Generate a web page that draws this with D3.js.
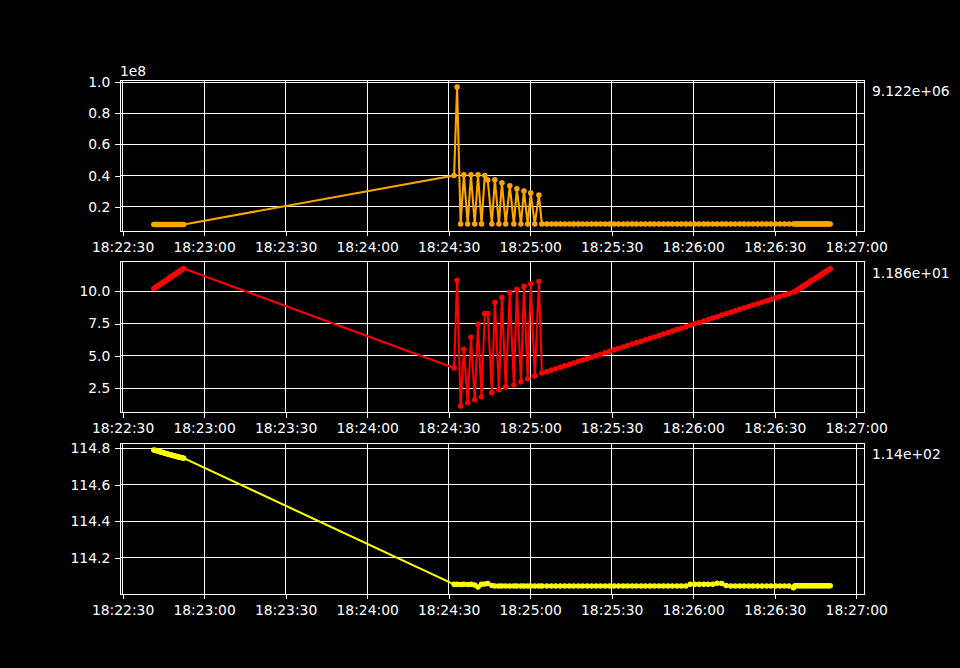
<!DOCTYPE html>
<html>
<head>
<meta charset="utf-8">
<script src="https://cdn.jsdelivr.net/npm/d3@7"></script>
<style>
  html, body { margin: 0; padding: 0; background: #000; }
  svg { display: block; }
  text { font-family: "DejaVu Sans", sans-serif; fill: #fff; }
</style>
</head>
<body>
<svg id="chart" width="960" height="668"></svg>
<script>
// ---- data (time in seconds after 18:22:00) ----
const times = [
  41.5, 42.0, 42.5, 43.0, 43.5, 44.0, 44.5, 45.0, 45.5, 46.0, 46.5, 47.0, 47.5, 48.0, 48.5, 49.0, 49.5, 50.0, 50.5, 51.0, 51.5, 52.0, 52.5,
  152.0, 153.1, 154.4, 155.6, 157.0, 158.2, 159.6, 160.8, 162.1, 163.3, 164.4, 165.9, 167.0, 168.5, 169.6, 171.0, 172.5, 174.0, 175.1, 176.6, 177.7, 179.1, 180.2, 181.7, 183.2, 184.3,
  186.1, 187.8, 189.4, 191.1, 192.7, 194.4, 196.0, 197.7, 199.3, 201.0, 202.6, 204.3, 205.9, 207.6, 209.2, 210.9, 212.5, 214.2, 215.8, 217.5, 219.1, 220.8, 222.4, 224.1, 225.7, 227.4, 229.0, 230.7,
  232.3, 234.0, 235.6, 237.3, 238.9, 240.6, 242.2, 243.9, 245.5, 247.2, 248.8, 250.5, 252.1, 253.8, 255.4, 257.1, 258.7, 260.4, 262.0, 263.7, 265.3, 267.0, 268.6, 270.3, 271.9, 273.6, 275.2, 276.9,
  277.4, 277.9, 278.4, 278.9, 279.4, 279.9, 280.4, 280.9, 281.4, 281.9, 282.4, 282.9, 283.4, 283.9, 284.4, 284.9, 285.4, 285.9, 286.4, 286.9, 287.4, 287.9, 288.4, 288.9, 289.4, 289.9, 290.4
];

const seriesOrange = [
  8720000, 8720000, 8720000, 8720000, 8720000, 8720000, 8720000, 8720000, 8720000, 8720000, 8720000, 8720000, 8720000, 8720000, 8720000, 8720000, 8720000, 8720000, 8720000, 8720000, 8720000, 8720000, 8720000,
  40200000, 96800000, 9122000, 40600000, 9122000, 40600000, 9122000, 40600000, 9122000, 40200000, 37200000, 9122000, 37400000, 9122000, 35500000, 9122000, 33500000, 9122000, 31600000, 9122000, 30200000, 9122000, 28900000, 9122000, 27600000, 9122000,
  9122000, 9122000, 9122000, 9122000, 9122000, 9122000, 9122000, 9122000, 9122000, 9122000, 9122000, 9122000, 9122000, 9122000, 9122000, 9122000, 9122000, 9122000, 9122000, 9122000, 9122000, 9122000, 9122000, 9122000, 9122000, 9122000, 9122000, 9122000,
  9122000, 9122000, 9122000, 9122000, 9122000, 9122000, 9122000, 9122000, 9122000, 9122000, 9122000, 9122000, 9122000, 9122000, 9122000, 9122000, 9122000, 9122000, 9122000, 9122000, 9122000, 9122000, 9122000, 9122000, 9122000, 9122000, 9122000, 9122000,
  9122000, 9122000, 9122000, 9122000, 9122000, 9122000, 9122000, 9122000, 9122000, 9122000, 9122000, 9122000, 9122000, 9122000, 9122000, 9122000, 9122000, 9122000, 9122000, 9122000, 9122000, 9122000, 9122000, 9122000, 9122000, 9122000, 9122000
];

const seriesRed = [
  10.21, 10.28, 10.35, 10.42, 10.49, 10.56, 10.63, 10.70, 10.77, 10.84, 10.91, 10.98, 11.06, 11.13, 11.20, 11.27, 11.34, 11.41, 11.48, 11.55, 11.62, 11.69, 11.76,
  4.05, 10.85, 1.10, 5.51, 1.36, 6.44, 1.59, 7.44, 1.82, 8.28, 8.28, 2.13, 9.13, 2.36, 9.52, 2.59, 9.90, 2.74, 10.13, 2.98, 10.38, 3.21, 10.59, 3.44, 10.75, 3.67,
  3.77, 3.89, 3.99, 4.11, 4.22, 4.33, 4.44, 4.56, 4.67, 4.78, 4.89, 5.01, 5.12, 5.23, 5.34, 5.46, 5.57, 5.68, 5.79, 5.91, 6.01, 6.13, 6.24, 6.35, 6.46, 6.58, 6.69, 6.80,
  6.91, 7.03, 7.14, 7.25, 7.36, 7.48, 7.58, 7.70, 7.81, 7.92, 8.03, 8.15, 8.26, 8.37, 8.48, 8.60, 8.70, 8.82, 8.93, 9.04, 9.15, 9.27, 9.38, 9.49, 9.60, 9.71, 9.82, 9.94,
  9.97, 10.04, 10.11, 10.17, 10.24, 10.31, 10.38, 10.45, 10.51, 10.58, 10.65, 10.72, 10.79, 10.85, 10.92, 10.99, 11.06, 11.13, 11.19, 11.26, 11.33, 11.40, 11.47, 11.53, 11.60, 11.67, 11.74
];

const seriesYellow = [
  114.789, 114.788, 114.786, 114.784, 114.781, 114.779, 114.777, 114.775, 114.772, 114.770, 114.768, 114.766, 114.764, 114.762, 114.760, 114.758, 114.756, 114.754, 114.752, 114.750, 114.748, 114.747, 114.745,
  114.056, 114.056, 114.055, 114.056, 114.055, 114.056, 114.052, 114.042, 114.056, 114.058, 114.061, 114.050, 114.047, 114.047, 114.047, 114.047, 114.047, 114.047, 114.047, 114.047, 114.047, 114.047, 114.047, 114.047, 114.047, 114.047,
  114.047, 114.047, 114.047, 114.047, 114.047, 114.047, 114.047, 114.047, 114.047, 114.047, 114.047, 114.047, 114.047, 114.047, 114.047, 114.047, 114.047, 114.047, 114.047, 114.047, 114.047, 114.047, 114.047, 114.047, 114.047, 114.047, 114.047, 114.047,
  114.047, 114.047, 114.047, 114.047, 114.056, 114.056, 114.056, 114.056, 114.056, 114.056, 114.062, 114.061, 114.050, 114.047, 114.047, 114.047, 114.047, 114.047, 114.047, 114.047, 114.047, 114.047, 114.047, 114.047, 114.047, 114.047, 114.047, 114.038,
  114.048, 114.048, 114.048, 114.048, 114.048, 114.048, 114.048, 114.048, 114.048, 114.048, 114.048, 114.048, 114.048, 114.048, 114.048, 114.048, 114.048, 114.048, 114.048, 114.048, 114.048, 114.048, 114.048, 114.048, 114.048, 114.048, 114.048
];

const xTickLabels = ["18:22:30", "18:23:00", "18:23:30", "18:24:00", "18:24:30", "18:25:00", "18:25:30", "18:26:00", "18:26:30", "18:27:00"];
const yTicksOrange = [0.2, 0.4, 0.6, 0.8, 1.0];   // in units of 1e8
const yTicksRed = [2.5, 5.0, 7.5, 10.0];
const yTicksYellow = [114.2, 114.4, 114.6, 114.8];
const sideLabels = ["9.122e+06", "1.186e+01", "1.14e+02"];
const offsetLabel = "1e8";
const colors = ["#ffa500", "#ff0000", "#ffff00"];

// ---- layout ----
const W = 960, H = 668;
const left = 120, right = 864;
const figTop = 0.12 * H, figBottom = 0.89 * H;
const ph = (figBottom - figTop) / 3.4;
const gap = ph * 0.2;
const pt = 100 / 72;
const fontPx = 10 * pt;

const base = Date.UTC(2000, 0, 1, 18, 22, 0);
const toDate = s => new Date(base + s * 1000);
const parseHMS = str => {
  const [h, m, s] = str.split(":").map(Number);
  return new Date(Date.UTC(2000, 0, 1, h, m, s));
};

const tExt = d3.extent(times);
const tPad = (tExt[1] - tExt[0]) * 0.05;
const x = d3.scaleUtc()
  .domain([toDate(tExt[0] - tPad), toDate(tExt[1] + tPad)])
  .range([left, right]);

const svg = d3.select("#chart");
svg.append("rect").attr("width", W).attr("height", H).attr("fill", "#000");

const panels = [
  { values: seriesOrange.map(v => v / 1e8), ticks: yTicksOrange, fmt: d3.format(".1f") },
  { values: seriesRed, ticks: yTicksRed, fmt: d3.format(".1f") },
  { values: seriesYellow, ticks: yTicksYellow, fmt: d3.format(".1f") }
];

const xTickDates = xTickLabels.map(parseHMS);
const xFmt = d3.utcFormat("%H:%M:%S");

panels.forEach((p, i) => {
  const top = figTop + i * (ph + gap);
  const bottom = top + ph;
  const ext = d3.extent(p.values);
  const pad = (ext[1] - ext[0]) * 0.05;
  const y = d3.scaleLinear().domain([ext[0] - pad, ext[1] + pad]).range([bottom, top]);

  const g = svg.append("g");

  // grid
  g.append("g").selectAll("line").data(xTickDates).join("line")
    .attr("x1", d => x(d)).attr("x2", d => x(d))
    .attr("y1", top).attr("y2", bottom)
    .attr("stroke", "#fff").attr("stroke-width", 1)
    .attr("shape-rendering", "crispEdges");
  g.append("g").selectAll("line").data(p.ticks).join("line")
    .attr("x1", left).attr("x2", right)
    .attr("y1", d => y(d)).attr("y2", d => y(d))
    .attr("stroke", "#fff").attr("stroke-width", 1)
    .attr("shape-rendering", "crispEdges");

  // line + markers
  const pts = times.map((t, k) => [toDate(t), p.values[k]]);
  g.append("path").datum(pts)
    .attr("fill", "none")
    .attr("stroke", colors[i])
    .attr("stroke-width", 1.5 * pt)
    .attr("stroke-linejoin", "round")
    .attr("d", d3.line().x(d => x(d[0])).y(d => y(d[1])));
  g.append("g").selectAll("circle").data(pts).join("circle")
    .attr("cx", d => x(d[0])).attr("cy", d => y(d[1]))
    .attr("r", 1.5 * pt)
    .attr("fill", colors[i])
    .attr("stroke", colors[i]).attr("stroke-width", 1 * pt);

  // spines
  g.append("rect")
    .attr("x", left).attr("y", top).attr("width", right - left).attr("height", ph)
    .attr("fill", "none").attr("stroke", "#fff").attr("stroke-width", 1)
    .attr("shape-rendering", "crispEdges");

  // axes
  const xAxis = d3.axisBottom(x).tickValues(xTickDates).tickFormat(xFmt)
    .tickSize(3.5 * pt).tickPadding(3.5 * pt).tickSizeOuter(0);
  const ax = g.append("g").attr("transform", `translate(0,${bottom})`).call(xAxis);
  const yAxis = d3.axisLeft(y).tickValues(p.ticks).tickFormat(p.fmt)
    .tickSize(3.5 * pt).tickPadding(3.5 * pt).tickSizeOuter(0);
  const ay = g.append("g").attr("transform", `translate(${left},0)`).call(yAxis);
  [ax, ay].forEach(a => {
    a.select(".domain").remove();
    a.selectAll(".tick line").attr("stroke", "#fff").attr("stroke-width", 1)
      .attr("shape-rendering", "crispEdges");
    a.selectAll(".tick text")
      .attr("fill", "#fff")
      .style("font-family", "'DejaVu Sans', sans-serif")
      .style("font-size", fontPx + "px");
  });
  ax.selectAll(".tick text").attr("dy", "0.76em");

  // right-side label
  svg.append("text")
    .attr("x", 872).attr("y", top + 16)
    .style("font-size", fontPx + "px")
    .text(sideLabels[i]);

  if (i === 0) {
    svg.append("text")
      .attr("x", left).attr("y", top - 4)
      .style("font-size", fontPx + "px")
      .text(offsetLabel);
  }
});
</script>
</body>
</html>
